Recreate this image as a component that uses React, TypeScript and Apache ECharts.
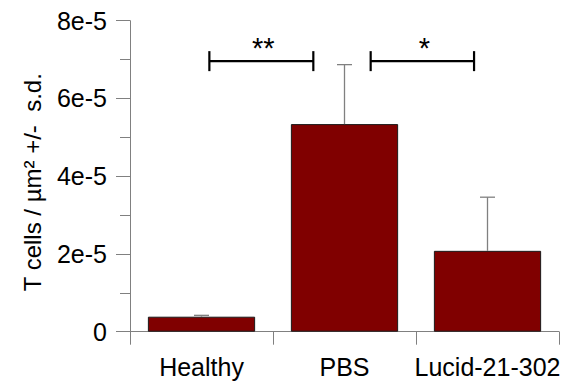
import React, { useEffect, useRef } from "react";
import * as echarts from "echarts";

const categories = ["Healthy", "PBS", "Lucid-21-302"];
const means = [3.86e-6, 5.34e-5, 2.08e-5];
const sds = [0.35e-6, 1.53e-5, 1.38e-5];
const yTicks = [0, 2e-5, 4e-5, 6e-5, 8e-5];
const tickLabels = ["0", "2e-5", "4e-5", "6e-5", "8e-5"];
const bracketStart = [0.055, 1.183];
const bracketEnd = [0.782, 1.906];
const bracketY = [6.96e-5, 6.96e-5];
const bracketLabels = ["**", "*"];

const FONT = "Liberation Sans, Arial, sans-serif";

export default function App() {
  const ref = useRef<HTMLDivElement>(null);
  useEffect(() => {
    if (!ref.current) return;
    const chart = echarts.init(ref.current, undefined, { renderer: "svg" });
    const option: any = {
      animation: false,
      backgroundColor: "#ffffff",
      grid: { left: 130, right: 17, top: 20.7, bottom: 51.3, containLabel: false },
      xAxis: [
        {
          type: "category",
          data: categories,
          axisLine: { lineStyle: { color: "#808080", width: 1 } },
          axisTick: { show: true, length: 13, lineStyle: { color: "#808080", width: 1 } },
          axisLabel: { color: "#000", fontSize: 25, fontFamily: FONT, margin: 23, interval: 0 },
        },
        { type: "value", min: -0.5, max: 2.5, show: false },
      ],
      yAxis: {
        type: "value",
        min: yTicks[0],
        max: yTicks[yTicks.length - 1],
        interval: 2e-5,
        splitLine: { show: false },
        axisLine: { show: true, onZero: false, lineStyle: { color: "#808080", width: 1 } },
        axisTick: { show: true, length: 14, lineStyle: { color: "#808080", width: 1 } },
        minorTick: { show: true, splitNumber: 2, length: 10, lineStyle: { color: "#808080", width: 1 } },
        axisLabel: {
          color: "#000",
          fontSize: 25,
          fontFamily: FONT,
          margin: 23,
          formatter: (v: number) => {
            const i = yTicks.findIndex((t) => Math.abs(t - v) < 1e-9);
            return i >= 0 ? tickLabels[i] : "";
          },
        },
        name: "T cells / \u00b5m\u00b2 +/-  s.d.",
        nameLocation: "middle",
        nameGap: 86,
        nameTextStyle: { color: "#000", fontSize: 24, fontFamily: FONT, padding: [0, 12, 0, 0] },
      },
      series: [
        {
          type: "bar",
          data: means,
          barCategoryGap: "25%",
          itemStyle: { color: "#800000", borderColor: "#1a1a1a", borderWidth: 1 },
          z: 2,
        },
        {
          type: "custom",
          data: means.map((m, i) => [i, m, sds[i]]),
          z: 3,
          renderItem: (params: any, api: any) => {
            const x = api.value(0);
            const m = api.value(1);
            const s = api.value(2);
            const p1 = api.coord([x, m]);
            const p2 = api.coord([x, m + s]);
            const style = { stroke: "#808080", lineWidth: 1.3 };
            return {
              type: "group",
              children: [
                { type: "line", shape: { x1: p1[0], y1: p1[1], x2: p2[0], y2: p2[1] }, style },
                { type: "line", shape: { x1: p2[0] - 7.5, y1: p2[1], x2: p2[0] + 7.5, y2: p2[1] }, style },
              ],
            };
          },
        },
        {
          type: "custom",
          xAxisIndex: 1,
          data: bracketStart.map((s, i) => [s, bracketEnd[i], bracketY[i]]),
          z: 4,
          renderItem: (params: any, api: any) => {
            const a = api.coord([api.value(0), api.value(2)]);
            const b = api.coord([api.value(1), api.value(2)]);
            const style = { stroke: "#000", lineWidth: 2.2 };
            return {
              type: "group",
              children: [
                { type: "line", shape: { x1: a[0], y1: a[1], x2: b[0], y2: b[1] }, style },
                { type: "line", shape: { x1: a[0], y1: a[1] - 10, x2: a[0], y2: a[1] + 10 }, style },
                { type: "line", shape: { x1: b[0], y1: b[1] - 10, x2: b[0], y2: b[1] + 10 }, style },
                {
                  type: "text",
                  x: (a[0] + b[0]) / 2 + 2,
                  y: a[1] + 1.5,
                  style: {
                    text: bracketLabels[params.dataIndex],
                    fontSize: 29,
                    fontFamily: FONT,
                    fill: "#000",
                    align: "center",
                    verticalAlign: "bottom",
                  },
                },
              ],
            };
          },
        },
      ],
    };
    chart.setOption(option);
    return () => chart.dispose();
  }, []);
  return (
    <div
      ref={ref}
      style={{ position: "fixed", left: 0, top: 0, width: 576, height: 383, background: "#fff" }}
    />
  );
}
